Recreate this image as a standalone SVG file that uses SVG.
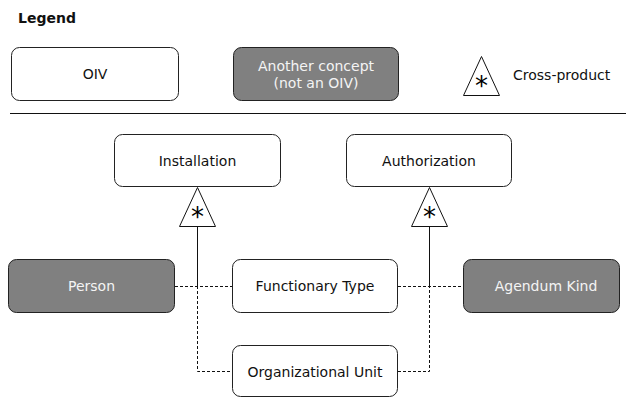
<svg xmlns="http://www.w3.org/2000/svg" width="628" height="398" viewBox="0 0 628 398">
  <style>
    text { font-family: "DejaVu Sans", Verdana, sans-serif; font-size: 14px; text-anchor: middle; dominant-baseline: central; }
    .oiv { fill: #ffffff; stroke: #222; stroke-width: 1; }
    .other { fill: #808080; stroke: #222; stroke-width: 1; }
    .dark { fill: #111; }
    .light { fill: #f4f4f4; }
    .tri { fill: #ffffff; stroke: #111; stroke-width: 1; }
    .star { font-size: 26px; fill: #000; }
    .solid { fill: none; stroke: #111; stroke-width: 1; }
    .dash { fill: none; stroke: #111; stroke-width: 1; stroke-dasharray: 3 2; }
  </style>

  <!-- legend -->
  <g id="legend">
    <text x="18" y="18" style="font-weight:bold; text-anchor:start" class="dark">Legend</text>
    <rect class="oiv" x="11.5" y="47.5" width="167" height="53" rx="8"/>
    <text x="95" y="74" class="dark">OIV</text>
    <rect class="other" x="233.5" y="47.5" width="165" height="53" rx="8"/>
    <text x="316" y="66" class="light">Another concept</text>
    <text x="316" y="83" class="light">(not an OIV)</text>
    <polygon class="tri" points="481.5,56.5 463.5,95.5 499.5,95.5"/>
    <text x="481.5" y="86" class="star">*</text>
    <text x="513" y="75" style="text-anchor:start" class="dark">Cross-product</text>
    <line x1="10" y1="113.5" x2="626" y2="113.5" stroke="#111" stroke-width="1"/>
  </g>

  <!-- connectors -->
  <g id="connectors">
    <line class="dash" x1="175" y1="286.5" x2="232" y2="286.5"/>
    <line class="dash" x1="398" y1="286.5" x2="463" y2="286.5"/>
    <line class="solid" x1="197.5" y1="226" x2="197.5" y2="286"/>
    <line class="solid" x1="429.5" y1="226" x2="429.5" y2="286"/>
    <polyline class="dash" points="197.5,286 197.5,371.5 232,371.5"/>
    <polyline class="dash" points="398,371.5 429.5,371.5 429.5,286"/>
    <polygon class="tri" points="197.5,187.5 179.5,226.5 215.5,226.5"/>
    <text x="197.5" y="217" class="star">*</text>
    <polygon class="tri" points="429.5,187.5 411.5,226.5 447.5,226.5"/>
    <text x="429.5" y="217" class="star">*</text>
  </g>

  <!-- nodes -->
  <g id="installation">
    <rect class="oiv" x="114.5" y="134.5" width="166" height="52" rx="8"/>
    <text x="197.5" y="161" class="dark">Installation</text>
  </g>
  <g id="authorization">
    <rect class="oiv" x="346.5" y="134.5" width="165" height="52" rx="8"/>
    <text x="429" y="161" class="dark">Authorization</text>
  </g>
  <g id="person">
    <rect class="other" x="8.5" y="259.5" width="166" height="53" rx="8"/>
    <text x="91.5" y="286" class="light">Person</text>
  </g>
  <g id="functionary-type">
    <rect class="oiv" x="232.5" y="259.5" width="165" height="53" rx="8"/>
    <text x="315" y="286" class="dark">Functionary Type</text>
  </g>
  <g id="agendum-kind">
    <rect class="other" x="463.5" y="259.5" width="156" height="53" rx="8"/>
    <text x="546" y="286" class="light">Agendum Kind</text>
  </g>
  <g id="organizational-unit">
    <rect class="oiv" x="232.5" y="345.5" width="165" height="51" rx="8"/>
    <text x="315" y="372" class="dark">Organizational Unit</text>
  </g>
</svg>
